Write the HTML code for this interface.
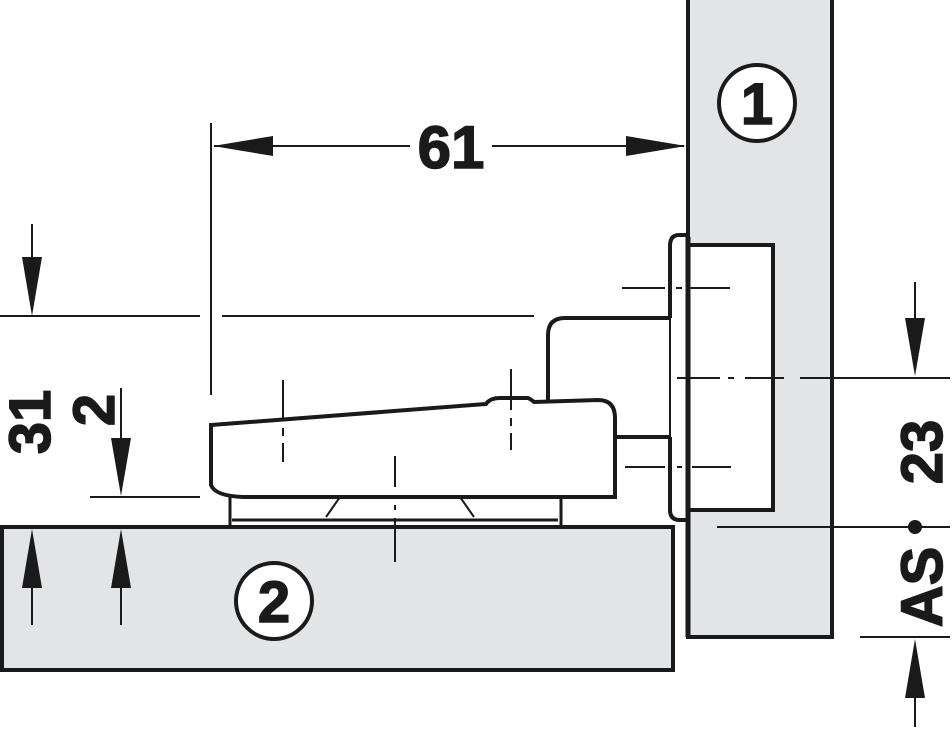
<!DOCTYPE html>
<html><head><style>body{margin:0;background:#fff}svg{display:block}</style></head><body>
<svg width="952" height="730" viewBox="0 0 952 730" xmlns="http://www.w3.org/2000/svg">
<g stroke="#1a1a1a" fill="none">
<rect x="688" y="-5" width="144" height="642" fill="#e3e4e6" stroke-width="4"/>
<rect x="2" y="527" width="671" height="143" fill="#e3e4e6" stroke-width="4"/>
<circle cx="757" cy="103" r="38" fill="#fff" stroke-width="4"/>
<circle cx="274" cy="601" r="38" fill="#fff" stroke-width="4"/>
<rect x="688" y="245" width="85" height="265" fill="#fff" stroke-width="4"/>
<line x1="688" y1="237" x2="688" y2="637" stroke-width="5"/>
<path d="M688,235 H679 Q670,235 670,246 V318 M670,437 V510 Q670,520 680,520 H688" stroke-width="4"/>
<line x1="670" y1="318" x2="670" y2="437" stroke-width="2"/>
<path d="M548,400 V335 Q548,318 565,318 H670" stroke-width="4"/>
<line x1="615" y1="437" x2="670" y2="437" stroke-width="4"/>
<path d="M211,425 L486,404 Q490,398 500,398 L528,398 Q532,400 534,402 L598,400 Q615,400 615,418 V497 H243 Q215,496 211,485 Z" fill="#fff" stroke-width="4"/>
<path d="M230,497 V525 M561,497 V525 M232,520 H558" stroke-width="3"/>
<path d="M340,497 L326,517 M460,497 L474,517" stroke-width="2"/>
<g stroke-width="2">
<path d="M283,380 V420 M283,428 V436 M283,443 V462"/>
<path d="M511,369 V410 M511,418 V426 M511,433 V450"/>
<path d="M395,456 V487 M395,505 V510 M395,518 V562"/>
<path d="M622,288 H665 M676,288 H682 M690,288 H730"/>
<path d="M677,378 H720 M728,378 H734 M745,378 H784 M800,378 H950"/>
<path d="M625,467 H665 M677,467 H682 M692,467 H731"/>
<path d="M717,527 H950"/>
<path d="M860,637 H950"/>
<path d="M0,316 H200 M222,316 H534"/>
<path d="M90,497 H200"/>
<path d="M211,123 V395"/>
<path d="M214,146 H410 M492,146 H684"/>
<path d="M32,224 V300 M121,388 V480"/>
<path d="M32,545 V625 M121,545 V625"/>
<path d="M915,282 V360 M915,655 V727"/>
</g>
</g>
<g fill="#1a1a1a">
<polygon points="213,146 273,136 273,156"/>
<polygon points="686,146 626,136 626,156"/>
<polygon points="32,316 22,257 42,257"/>
<polygon points="121,496 111,438 131,438"/>
<polygon points="32,529 22,588 42,588"/>
<polygon points="121,529 111,588 131,588"/>
<polygon points="915,376 905,318 925,318"/>
<polygon points="915,639 905,698 925,698"/>
<circle cx="915" cy="527" r="7"/>
</g>
<g font-family="Liberation Sans, sans-serif" font-weight="bold" fill="#1a1a1a" stroke="#1a1a1a" stroke-width="1.5">
<text x="451" y="168" font-size="60" text-anchor="middle">61</text>
<text x="757" y="124" font-size="58" text-anchor="middle">1</text>
<text x="274" y="622" font-size="58" text-anchor="middle">2</text>
<text transform="translate(50,422) rotate(-90)" font-size="58" text-anchor="middle">31</text>
<text transform="translate(114,410) rotate(-90)" font-size="58" text-anchor="middle">2</text>
<text transform="translate(942,452) rotate(-90)" font-size="58" text-anchor="middle">23</text>
<text transform="translate(942,587) rotate(-90)" font-size="58" text-anchor="middle">AS</text>
</g>
</svg>
</body></html>
